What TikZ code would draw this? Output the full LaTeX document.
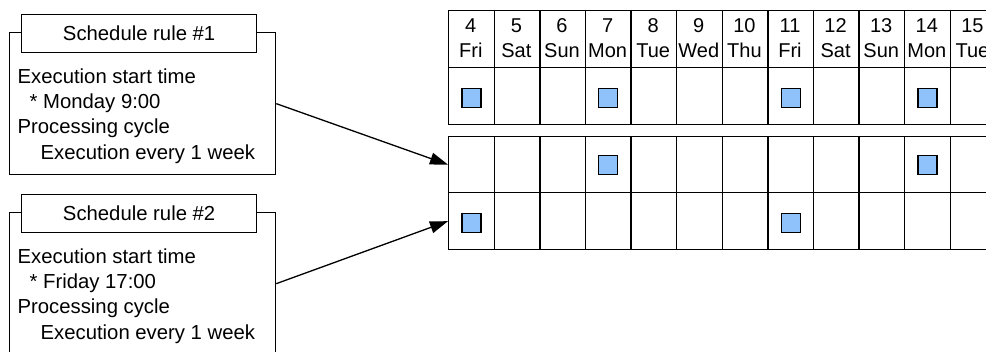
\documentclass[tikz,border=0pt]{standalone}
\usepackage{fontspec}
\setmainfont{Liberation Sans}
\usetikzlibrary{arrows.meta}
\definecolor{sqblue}{RGB}{143,194,250}
\begin{document}
\begin{tikzpicture}[x=1pt,y=-1pt, line width=1.3pt,
  txt/.style={font=\fontsize{20.3}{25}\selectfont, inner sep=0pt, anchor=base west},
  ctxt/.style={font=\fontsize{20}{25}\selectfont, inner sep=0pt, anchor=base},
  cell/.style={draw, minimum width=45.6pt, minimum height=57pt, inner sep=0pt, anchor=north west},
  sq/.style={draw, fill=sqblue, minimum size=19pt, inner sep=0pt},
  frame/.style={draw, minimum width=266pt, minimum height=142pt, inner sep=0pt, anchor=north west},
  titlebox/.style={draw, fill=white, minimum width=235pt, minimum height=38pt, inner sep=0pt,
     anchor=north west, text depth=2pt, font=\fontsize{20.3}{25}\selectfont},
  arr/.style={-{Triangle[length=18pt,width=12pt]}, line width=1.3pt}]
\useasboundingbox (0,0) rectangle (986,351);
\clip (0,0) rectangle (986,351);

% calendar
\foreach \d/\w [count=\i from 0] in {4/Fri,5/Sat,6/Sun,7/Mon,8/Tue,9/Wed,10/Thu,11/Fri,12/Sat,13/Sun,14/Mon,15/Tue}{
  \node[cell] (h\i) at ({448+45.6*\i},10) {};
  \node[ctxt] (hn\i) at ({470.8+45.6*\i},32) {\d};
  \node[ctxt] (hd\i) at ({470.8+45.6*\i},57) {\w};
  \node[cell] (t\i) at ({448+45.6*\i},67) {};
  \node[cell, minimum height=56pt] (a\i) at ({448+45.6*\i},136) {};
  \node[cell] (b\i) at ({448+45.6*\i},192) {};
}
\node[sq] (st0) at ([yshift=-1.5pt]t0.center) {};
\node[sq] (st3) at ([yshift=-1.5pt]t3.center) {};
\node[sq] (st7) at ([yshift=-1.5pt]t7.center) {};
\node[sq] (st10) at ([yshift=-1.5pt]t10.center) {};
\node[sq] (sa3) at ([yshift=-0.5pt]a3.center) {};
\node[sq] (sa10) at ([yshift=-0.5pt]a10.center) {};
\node[sq] (sb0) at ([yshift=-1.5pt]b0.center) {};
\node[sq] (sb7) at ([yshift=-1.5pt]b7.center) {};

% rule 1
\node[frame] (r1) at (9,32) {};
\node[titlebox] (r1t) at (21,14) {Schedule rule \#1};
\node[txt] (r1a) at (17,83) {Execution start time};
\node[txt] (r1b) at (29,108) {* Monday 9:00};
\node[txt] (r1c) at (17,133) {Processing cycle};
\node[txt] (r1d) at (40,159) {Execution every 1 week};

% rule 2
\node[frame] (r2) at (9,212) {};
\node[titlebox] (r2t) at (21,194) {Schedule rule \#2};
\node[txt] (r2a) at (17,263) {Execution start time};
\node[txt] (r2b) at (29,288) {* Friday 17:00};
\node[txt] (r2c) at (17,313) {Processing cycle};
\node[txt] (r2d) at (40,339) {Execution every 1 week};

% arrows
\draw[arr] (r1.east) -- (a0.west);
\draw[arr] (r2.east) -- (b0.west);
\end{tikzpicture}
\end{document}
